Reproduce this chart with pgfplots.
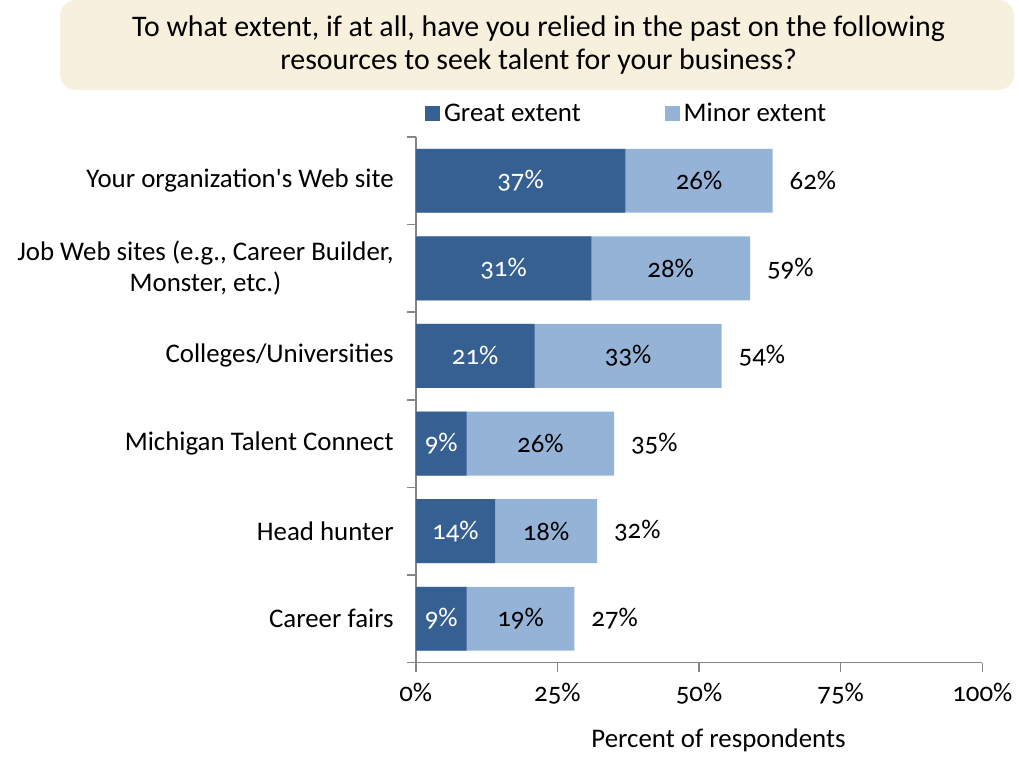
\documentclass[border=0pt]{standalone}
\usepackage{fontspec}
\setmainfont{Carlito}[Numbers=OldStyle]
\usepackage{pgfplots}
\pgfplotsset{compat=1.18}
\usepackage{pgfplotstable}

\definecolor{darkbar}{HTML}{376092}
\definecolor{lightbar}{HTML}{95B3D7}
\definecolor{titlebg}{HTML}{F7F0DC}
\definecolor{axisgray}{HTML}{868686}

% great / minor extent and the total shown at the bar end
\pgfplotstableread{
pos great minor total
0   37    26    62
1   31    28    59
2   21    33    54
3   9     26    35
4   14    18    32
5   9     19    27
}\datatable

\newcommand{\lblfont}{\fontsize{13.5}{15.5}\selectfont}

\begin{document}
\begin{tikzpicture}
\path (0,0) rectangle (509.5bp,-378.5bp);
\fill[titlebg, rounded corners=8bp] (30bp,0) rectangle (507.5bp,-45bp);
\node[anchor=base, font=\fontsize{15}{16.5}\selectfont] at (269.5bp,-18.5bp)
  {To what extent, if at all, have you relied in the past on the following};
\node[anchor=base, font=\fontsize{15}{16.5}\selectfont] at (269.5bp,-35bp)
  {resources to seek talent for your business?};

\begin{axis}[
    at={(208bp,-331.5bp)}, anchor=south west,
    scale only axis, width=283.5bp, height=263bp,
    xmin=0, xmax=100, ymin=-0.5, ymax=5.5, y dir=reverse,
    axis x line*=bottom, axis y line*=left,
    axis line style={axisgray, line width=0.8bp, -},
    tick align=outside,
    major tick length=4.5bp, minor tick length=4.5bp,
    tick style={axisgray, line width=0.8bp},
    xtick={0,25,50,75,100},
    xticklabels={0\%,25\%,50\%,75\%,100\%},
    ytick={0,...,5},
    yticklabels={Your organization\textquotesingle s Web site,
      {Job Web sites (e.g., Career Builder,\\Monster, etc.)},
      Colleges/Universities, Michigan Talent Connect, Head hunter, Career fairs},
    ytick style={draw=none},
    minor ytick={-0.5,0.5,...,5.5},
    minor y tick style={draw=axisgray},
    ticklabel style={font=\lblfont},
    yticklabel style={align=center, xshift=-3bp},
    xticklabel style={yshift=-2.5bp},
    legend columns=2,
    legend image code/.code={\fill[#1, draw=none] (0bp,-3.75bp) rectangle (7.5bp,3.75bp);},
    legend style={draw=none, fill=none, font=\lblfont,
      at={(axis description cs:0.374,1.044)}, anchor=center,
      /tikz/every even column/.append style={column sep=40bp}},
]
\addlegendimage{fill=darkbar}
\addlegendentry{Great extent}
\addlegendimage{fill=lightbar}
\addlegendentry{Minor extent}

\addplot[xbar, bar width=32bp, bar shift=0pt, fill=lightbar, draw=none, forget plot]
  table[x expr=\thisrow{great}+\thisrow{minor}, y=pos] {\datatable};
\addplot[xbar, bar width=32bp, bar shift=0pt, fill=darkbar, draw=none, forget plot]
  table[x=great, y=pos] {\datatable};

\addplot[draw=none, mark=none, forget plot, point meta=explicit symbolic,
  nodes near coords={\pgfplotspointmeta\%}, nodes near coords align=horizontal,
  every node near coord/.append style={anchor=center, white, font=\lblfont}]
  table[x expr=\thisrow{great}/2, y=pos, meta=great] {\datatable};
\addplot[draw=none, mark=none, forget plot, point meta=explicit symbolic,
  nodes near coords={\pgfplotspointmeta\%}, nodes near coords align=horizontal,
  every node near coord/.append style={anchor=center, black, font=\lblfont}]
  table[x expr=\thisrow{great}+\thisrow{minor}/2, y=pos, meta=minor] {\datatable};
\addplot[draw=none, mark=none, forget plot, point meta=explicit symbolic,
  nodes near coords={\pgfplotspointmeta\%}, nodes near coords align=horizontal,
  every node near coord/.append style={anchor=west, xshift=5bp, black, font=\lblfont}]
  table[x expr=\thisrow{great}+\thisrow{minor}, y=pos, meta=total] {\datatable};
\end{axis}

\node[anchor=base, font=\lblfont] at (359.5bp,-374bp) {Percent of respondents};
\end{tikzpicture}
\end{document}
